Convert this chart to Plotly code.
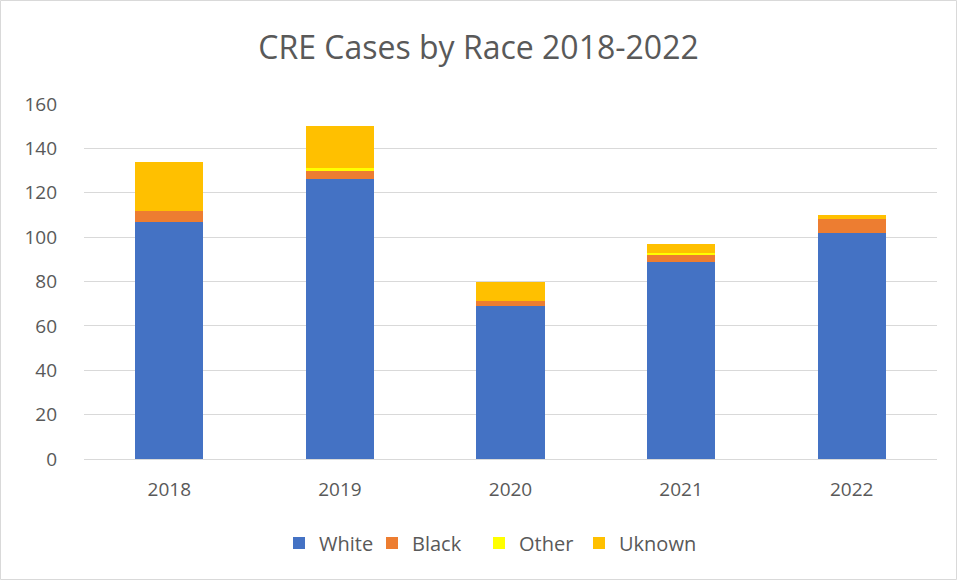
import plotly.graph_objects as go

years = ["2018", "2019", "2020", "2021", "2022"]
white = [107, 126, 69, 89, 102]
black = [5, 4, 2, 3, 6]
other = [0, 1, 0, 1, 0]
unknown = [22, 19, 9, 4, 2]
y_ticks = [0, 20, 40, 60, 80, 100, 120, 140, 160]

series = [("White", white, "#4472C4"), ("Black", black, "#ED7D31"),
          ("Other", other, "#FFFF00"), ("Uknown", unknown, "#FFC000")]

L, R, T, B = 57, 20, 104, 121
PLOT_LEFT = 84
pw = 957 - L - R
ph = 580 - T - B
legend_px = [279, 372, 479, 579]

fig = go.Figure()
legend_layouts = {}
for i, (name, vals, col) in enumerate(series):
    lg = "legend" if i == 0 else f"legend{i + 1}"
    fig.add_trace(go.Bar(x=years, y=vals, name=name, legend=lg, showlegend=True,
                         marker=dict(color=col, line=dict(width=0))))
    legend_layouts[lg] = dict(orientation="h", x=(legend_px[i] - L) / pw, xanchor="left",
                              y=-(543 - 459) / ph, yanchor="middle",
                              font=dict(size=20, color="#595959"), itemwidth=30,
                              bgcolor="rgba(0,0,0,0)")

fig.update_layout(
    width=957, height=580,
    showlegend=True,
    barmode="stack", bargap=0.6,
    margin=dict(l=L, r=R, t=T, b=B),
    paper_bgcolor="white", plot_bgcolor="white",
    font=dict(family="Open Sans, Liberation Sans, sans-serif", color="#595959", size=19),
    title=dict(text="CRE Cases by Race 2018-2022", x=0.5, xanchor="center", y=1 - 48 / 580, yanchor="middle",
               font=dict(size=32, color="#595959")),
    xaxis=dict(domain=[(PLOT_LEFT - L) / pw, 1], showgrid=False, showline=True, linecolor="#D9D9D9",
               linewidth=1, ticks="", tickfont=dict(size=19, color="#595959"), ticklabelstandoff=13),
    yaxis=dict(range=[0, 160], tickvals=y_ticks, showgrid=True, gridcolor="#D9D9D9", gridwidth=1,
               zeroline=False, showline=False, tickfont=dict(size=19, color="#595959"),
               anchor="free", position=0),
    shapes=[dict(type="rect", xref="paper", yref="paper",
                 x0=-(L - 0.5) / pw, x1=(956.5 - L) / pw,
                 y0=-(579.5 - (580 - B)) / ph, y1=((580 - B) - 0.5) / ph,
                 line=dict(color="#D9D9D9", width=1), layer="below")],
    **legend_layouts,
)

fig.write_html("out.html", config={"displayModeBar": False},
               post_script="document.body.style.margin='0';document.body.style.overflow='hidden';")
